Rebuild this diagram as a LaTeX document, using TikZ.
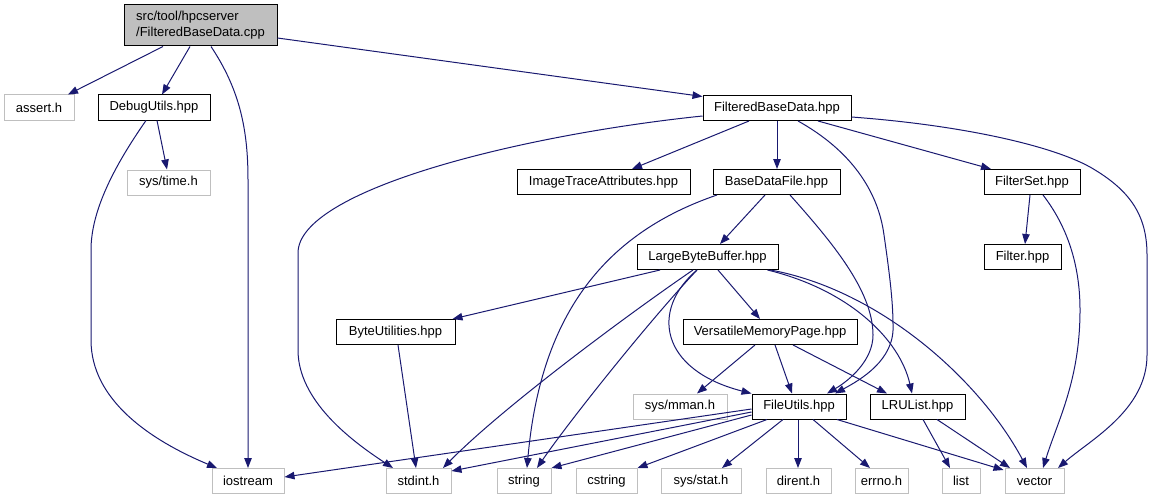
\documentclass[tikz,border=0pt]{standalone}
\usepackage{fontspec}
\setmainfont{Liberation Sans}
\usetikzlibrary{arrows.meta,calc}
\definecolor{edgec}{HTML}{191970}
\definecolor{sysgray}{HTML}{BFBFBF}
\begin{document}
\begin{tikzpicture}[x=1pt,y=-1pt,
  box/.style={rectangle, inner sep=0pt, minimum height=25pt, font=\fontsize{13}{16}\selectfont, line width=1pt, fill=white},
  doc/.style={box, draw=black},
  sys/.style={box, draw=sysgray},
  dep/.style={draw=edgec, line width=1pt, -{Triangle[length=10pt,width=7.5pt]}}]
\useasboundingbox (0,0) rectangle (1155,500);

% nodes
\node[doc, fill=sysgray, minimum width=153pt, minimum height=41pt, align=left] (main) at (200.5,25.5) {src/tool/hpcserver\\/FilteredBaseData.cpp};
\node[sys, minimum width=70pt] (assert) at (39,107.5) {assert.h};
\node[doc, minimum width=112pt] (debug) at (154,107.5) {DebugUtils.hpp};
\node[sys, minimum width=83pt] (systime) at (168.5,182.5) {sys/time.h};
\node[doc, minimum width=148pt] (FBD) at (777,108) {FilteredBaseData.hpp};
\node[doc, minimum width=173pt] (ITA) at (603.5,182) {ImageTraceAttributes.hpp};
\node[doc, minimum width=127pt] (BDF) at (776.5,182) {BaseDataFile.hpp};
\node[doc, minimum width=96pt] (FS) at (1032,182) {FilterSet.hpp};
\node[doc, minimum width=77pt] (Filter) at (1022.5,257) {Filter.hpp};
\node[doc, minimum width=141pt] (LBB) at (707.5,257) {LargeByteBuffer.hpp};
\node[doc, minimum width=119pt] (BU) at (395.5,332) {ByteUtilities.hpp};
\node[doc, minimum width=174pt] (VMP) at (770,332) {VersatileMemoryPage.hpp};
\node[sys, minimum width=94pt] (mman) at (680,406.5) {sys/mman.h};
\node[doc, minimum width=94pt] (FU) at (799,406.5) {FileUtils.hpp};
\node[doc, minimum width=95pt] (LRU) at (917.5,406.5) {LRUList.hpp};
\node[sys, minimum width=72pt] (iostream) at (248,481) {iostream};
\node[sys, minimum width=65pt] (stdint) at (418.5,481) {stdint.h};
\node[sys, minimum width=54pt] (string) at (524,481) {string};
\node[sys, minimum width=61pt] (cstring) at (606.5,481) {cstring};
\node[sys, minimum width=80pt] (sysstat) at (701,481) {sys/stat.h};
\node[sys, minimum width=65pt] (dirent) at (798.5,481) {dirent.h};
\node[sys, minimum width=53pt] (errno) at (881.5,481) {errno.h};
\node[sys, minimum width=38pt] (list) at (961,481) {list};
\node[sys, minimum width=59pt] (vector) at (1034.5,481) {vector};

% main
\draw[dep] ([xshift=-37.5pt]main.south) -- ([xshift=29pt]assert.north);
\draw[dep] ([xshift=-10.5pt]main.south) -- ([xshift=8pt]debug.north);
\draw[dep] ([xshift=10.5pt]main.south) .. controls (240,90) and (248,130) .. (248,180) -- (iostream.north);
\draw[dep] ([yshift=-12.5pt]main.east) -- ([yshift=-1.5pt]FBD.north west);
% debug
\draw[dep] ([xshift=3pt]debug.south) -- ([xshift=-1.5pt]systime.north);
\draw[dep] ([xshift=-8pt]debug.south) .. controls (115,165) and (91,210) .. (91,250) -- (91,340) .. controls (91,400) and (150,440) .. ([xshift=-31pt]iostream.north);
% FBD
\draw[dep] ([xshift=-28pt]FBD.south) -- ([xshift=28.5pt]ITA.north);
\draw[dep] (FBD.south) -- (FBD.south |- BDF.north);
\draw[dep] ([xshift=21pt]FBD.south) .. controls (850,150) and (878,190) .. (884,235) .. controls (889,270) and (893,300) .. (893,325) .. controls (895,360) and (860,380) .. ([xshift=36pt]FU.north);
\draw[dep] ([xshift=41pt]FBD.south) -- ([xshift=-41pt]FS.north);
\draw[dep] ([yshift=-9pt]FBD.east) .. controls (960,125) and (1050,145) .. (1090,167) .. controls (1130,190) and (1147,215) .. (1147,255) -- (1147,355) .. controls (1147,410) and (1090,440) .. ([xshift=23.5pt]vector.north);
\draw[dep] ([yshift=-8pt]FBD.west) .. controls (520,135) and (298,190) .. (298,253) -- (298,350) .. controls (298,400) and (350,440) .. ([xshift=-25.5pt]stdint.north);
% FilterSet
\draw[dep] ([xshift=-2pt]FS.south) -- ([xshift=2.5pt]Filter.north);
\draw[dep] ([xshift=11pt]FS.south) .. controls (1070,230) and (1080,270) .. (1080,310) .. controls (1080,380) and (1058,420) .. ([xshift=8.5pt]vector.north);
% BaseDataFile
\draw[dep] ([xshift=-11.5pt]BDF.south) -- ([xshift=12.5pt]LBB.north);
\draw[dep] ([xshift=-59.5pt]BDF.south) .. controls (600,235) and (540,320) .. ([xshift=3pt]string.north);
\draw[dep] ([xshift=13.5pt]BDF.south) .. controls (830,240) and (873,290) .. (873,335) .. controls (873,360) and (850,380) .. ([xshift=28pt]FU.north);
% LargeByteBuffer
\draw[dep] ([xshift=-47.5pt]LBB.south) -- ([xshift=-3pt]BU.north east);
\draw[dep] ([xshift=10.5pt]LBB.south) -- ([xshift=-10pt]VMP.north);
\draw[dep] ([xshift=-14.5pt]LBB.south) .. controls (620,320) and (500,410) .. ([xshift=24.5pt]stdint.north);
\draw[dep] ([xshift=-10.5pt]LBB.south) .. controls (650,320) and (570,420) .. ([xshift=13pt]string.north);
\draw[dep] ([xshift=-10.5pt]LBB.south) .. controls (650,310) and (660,370) .. (FU.north west);
\draw[dep] ([xshift=-11pt]LBB.south east) .. controls (850,290) and (900,340) .. ([xshift=-5.5pt]LRU.north);
\draw[dep] ([xshift=-8pt]LBB.south east) .. controls (880,290) and (980,380) .. ([xshift=-7.5pt]vector.north);
% VersatileMemoryPage
\draw[dep] ([xshift=-15pt]VMP.south) -- ([xshift=17pt]mman.north);
\draw[dep] ([xshift=5pt]VMP.south) -- ([xshift=-7pt]FU.north);
\draw[dep] ([xshift=23pt]VMP.south) -- ([xshift=-30.5pt]LRU.north);
% ByteUtilities
\draw[dep] ([xshift=2.5pt]BU.south) -- ([xshift=-2.5pt]stdint.north);
% FileUtils
\draw[dep] ([yshift=-2.5pt]FU.west) -- ([yshift=4pt]iostream.east);
\draw[dep] ([yshift=-5.5pt]FU.west) -- ([yshift=10pt]stdint.east);
\draw[dep] ([yshift=-8.5pt]FU.west) -- (string.north east);
\draw[dep] ([xshift=-32pt]FU.south) -- (cstring.north east);
\draw[dep] ([xshift=-16pt]FU.south) -- ([xshift=21pt]sysstat.north);
\draw[dep] ([xshift=-1pt]FU.south) -- ([xshift=-0.5pt]dirent.north);
\draw[dep] ([xshift=14pt]FU.south) -- ([xshift=-11.5pt]errno.north);
\draw[dep] ([xshift=38pt]FU.south) -- ([shift={(-1pt,-2pt)}]vector.north west);
% LRUList
\draw[dep] ([xshift=5.5pt]LRU.south) -- ([xshift=-11pt]list.north);
\draw[dep] ([xshift=19.5pt]LRU.south) -- ([xshift=-24.5pt]vector.north);
\end{tikzpicture}
\end{document}
